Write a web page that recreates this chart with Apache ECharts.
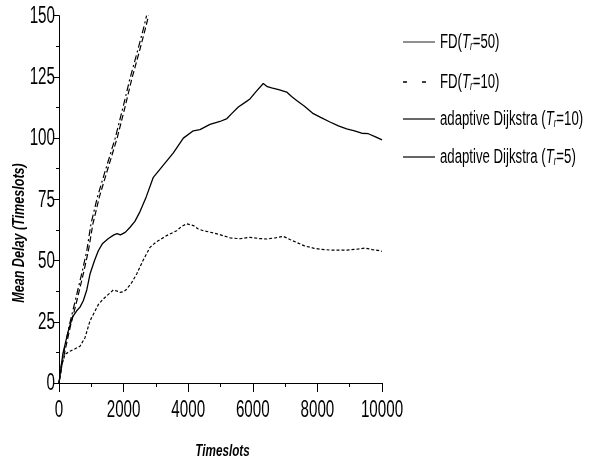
<!DOCTYPE html>
<html><head><meta charset="utf-8">
<script src="https://cdn.jsdelivr.net/npm/echarts@6/dist/echarts.min.js"></script>
<style>html,body{margin:0;padding:0;background:#fff}#c{width:592px;height:461px}</style>
</head><body><div id="c"></div>
<script>
var FONT = "'Liberation Sans','Arial',sans-serif";
var seriesNames = ['FD(Tr=50)', 'FD(Tr=10)', 'adaptive Dijkstra (Tr=10)', 'adaptive Dijkstra (Tr=5)'];
var xTicks = [0, 2000, 4000, 6000, 8000, 10000];
var yTicks = [0, 25, 50, 75, 100, 125, 150];
var xTitle = 'Timeslots';
var yTitle = 'Mean Delay (Timeslots)';

var fd50X = [0, 80, 170, 310, 510, 710, 860, 990, 1190, 1440, 1740, 1990, 2190, 2440, 2640, 2710];
var fd50Y = [0, 8, 14, 23, 34, 45, 54, 65, 76, 87, 100, 113, 124, 136, 146, 150];
var fd10X = [0, 100, 200, 350, 560, 760, 910, 1050, 1250, 1500, 1800, 2050, 2250, 2500, 2700, 2770];
var fd10Y = [0, 8, 14, 23, 34, 45, 54, 65, 76, 87, 100, 113, 124, 136, 146, 150];
var ad10X = [0, 120, 288, 420, 548, 650, 752, 860, 960, 1100, 1217, 1350, 1530, 1700, 1800, 1900, 1950, 2050, 2200, 2350, 2508, 2700, 2920, 3230, 3540, 3850, 4158, 4365, 4675, 4985, 5200, 5346, 5552, 5750, 5913, 6100, 6325, 6450, 6584, 6800, 7049, 7200, 7358, 7600, 7874, 8100, 8390, 8650, 8906, 9150, 9370, 9576, 9800, 10000];
var ad10Y = [0, 12, 21.3, 27, 29.5, 31, 33.6, 38, 44.5, 50, 54, 57, 59, 60.5, 61, 60.5, 60.5, 61.5, 63.6, 66, 70, 76, 84, 89, 94, 100, 103, 103.5, 105.6, 106.8, 108, 110, 112.7, 114.5, 116, 119, 122.3, 121, 120.5, 119.8, 118.8, 117, 115.4, 113, 110, 108.5, 106.6, 105, 103.8, 103, 102, 101.8, 100.5, 99.3];
var ad5X = [0, 100, 186, 340, 500, 650, 805, 960, 1100, 1217, 1350, 1476, 1600, 1682, 1800, 1889, 2000, 2095, 2250, 2405, 2600, 2817, 3000, 3334, 3643, 3800, 3953, 4158, 4300, 4468, 4777, 5000, 5294, 5604, 5913, 6200, 6430, 6700, 6944, 7150, 7358, 7600, 7874, 8100, 8390, 8906, 9200, 9473, 9700, 9938, 10000];
var ad5Y = [0, 8, 11.7, 13, 14, 15, 18.5, 25.4, 29, 32, 34, 35.6, 37, 38, 37.5, 37, 37.3, 38.3, 41, 44.5, 50, 55.4, 57.5, 60.2, 62.2, 64, 65, 64.3, 63, 62.2, 61.3, 60.5, 59.3, 58.9, 59.5, 59, 58.8, 59.3, 59.9, 58.6, 57.4, 56, 55.1, 54.6, 54.3, 54.3, 54.6, 55.1, 54.5, 54, 53.8];

function pairs(xs, ys) { return xs.map(function (x, i) { return [x, ys[i]]; }); }

var SQ = 0.66; // horizontal condensing of the narrow typeface

var chart = echarts.init(document.getElementById('c'), null, { renderer: 'canvas' });
chart.setOption({
  animation: false,
  backgroundColor: '#fff',
  grid: { left: 59, right: 210, top: 15.7, bottom: 78, containLabel: false, outerBoundsMode: 'none' },
  xAxis: {
    type: 'value', min: 0, max: 10000, interval: 2000,
    axisLine: { lineStyle: { color: '#000', width: 1 } },
    axisTick: { show: true, inside: false, length: 9, lineStyle: { color: '#000' } },
    minorTick: { show: true, splitNumber: 2, length: 4, lineStyle: { color: '#000' } },
    axisLabel: { show: false },
    splitLine: { show: false }
  },
  yAxis: {
    type: 'value', min: 0, max: 150, interval: 25,
    axisLine: { show: true, lineStyle: { color: '#000', width: 1 } },
    axisTick: { show: true, inside: false, length: 6, lineStyle: { color: '#000' } },
    minorTick: { show: true, splitNumber: 2, length: 3, lineStyle: { color: '#000' } },
    axisLabel: { show: false },
    splitLine: { show: false }
  },
  series: [
    { name: seriesNames[0], type: 'line', symbol: 'none', data: pairs(fd50X, fd50Y),
      lineStyle: { color: '#000', width: 1.2, type: [7, 3, 2, 3] }, itemStyle: { color: '#000' } },
    { name: seriesNames[1], type: 'line', symbol: 'none', data: pairs(fd10X, fd10Y),
      lineStyle: { color: '#000', width: 1.2, type: [6, 3] }, itemStyle: { color: '#000' } },
    { name: seriesNames[2], type: 'line', symbol: 'none', data: pairs(ad10X, ad10Y),
      lineStyle: { color: '#000', width: 1.3, type: 'solid' }, itemStyle: { color: '#000' } },
    { name: seriesNames[3], type: 'line', symbol: 'none', data: pairs(ad5X, ad5Y),
      lineStyle: { color: '#000', width: 1.2, type: [3, 2] }, itemStyle: { color: '#000' } }
  ]
});

// text drawn condensed, placed through the chart's own scales
var g = [];
xTicks.forEach(function (v) {
  var p = chart.convertToPixel({ gridIndex: 0 }, [v, 0]);
  g.push({ type: 'text', x: p[0], y: p[1] + 28, scaleX: SQ, silent: true,
    style: { text: String(v), font: '23px ' + FONT, fill: '#000', align: 'center', verticalAlign: 'middle' } });
});
yTicks.forEach(function (v) {
  var p = chart.convertToPixel({ gridIndex: 0 }, [0, v]);
  g.push({ type: 'text', x: p[0] - 4, y: p[1] + 1, scaleX: SQ, silent: true,
    style: { text: String(v), font: '23px ' + FONT, fill: '#000', align: 'right', verticalAlign: 'middle' } });
});
var xc = chart.convertToPixel({ gridIndex: 0 }, [5000, 0]);
g.push({ type: 'text', x: xc[0] + 2, y: 452, scaleX: 0.73, silent: true,
  style: { text: xTitle, font: 'italic bold 16px ' + FONT, fill: '#000', align: 'center', verticalAlign: 'middle' } });
g.push({ type: 'text', x: 19.5, y: 233, rotation: Math.PI / 2, scaleX: 0.74, silent: true,
  style: { text: yTitle, font: 'italic bold 17px ' + FONT, fill: '#000', align: 'center', verticalAlign: 'middle' } });

// legend
var legRows = [42, 82, 119, 157];
var legStyles = [
  { stroke: '#555', lineWidth: 1.3, lineDash: null },
  { stroke: '#000', lineWidth: 1.3, lineDash: [4, 15] },
  { stroke: '#000', lineWidth: 1.2, lineDash: null },
  { stroke: '#000', lineWidth: 1.2, lineDash: null }
];
var rich = {
  n: { font: '20px ' + FONT, fill: '#000' },
  i: { font: 'italic 20px ' + FONT, fill: '#000' },
  s: { font: 'italic 12px ' + FONT, fill: '#000', padding: [10, 0, 0, 0] }
};
seriesNames.forEach(function (name, k) {
  var m = name.match(/^(.*)T(r)(=.*)$/);
  var y = legRows[k];
  g.push({ type: 'line', silent: true, shape: { x1: 403, y1: y, x2: 435, y2: y }, style: legStyles[k] });
  g.push({ type: 'text', x: 440, y: y, scaleX: SQ, silent: true,
    style: { text: '{n|' + m[1] + '}{i|T}{s|r}{n|' + m[3] + '}', rich: rich, align: 'left', verticalAlign: 'middle' } });
});
chart.setOption({ graphic: g });
</script></body></html>
